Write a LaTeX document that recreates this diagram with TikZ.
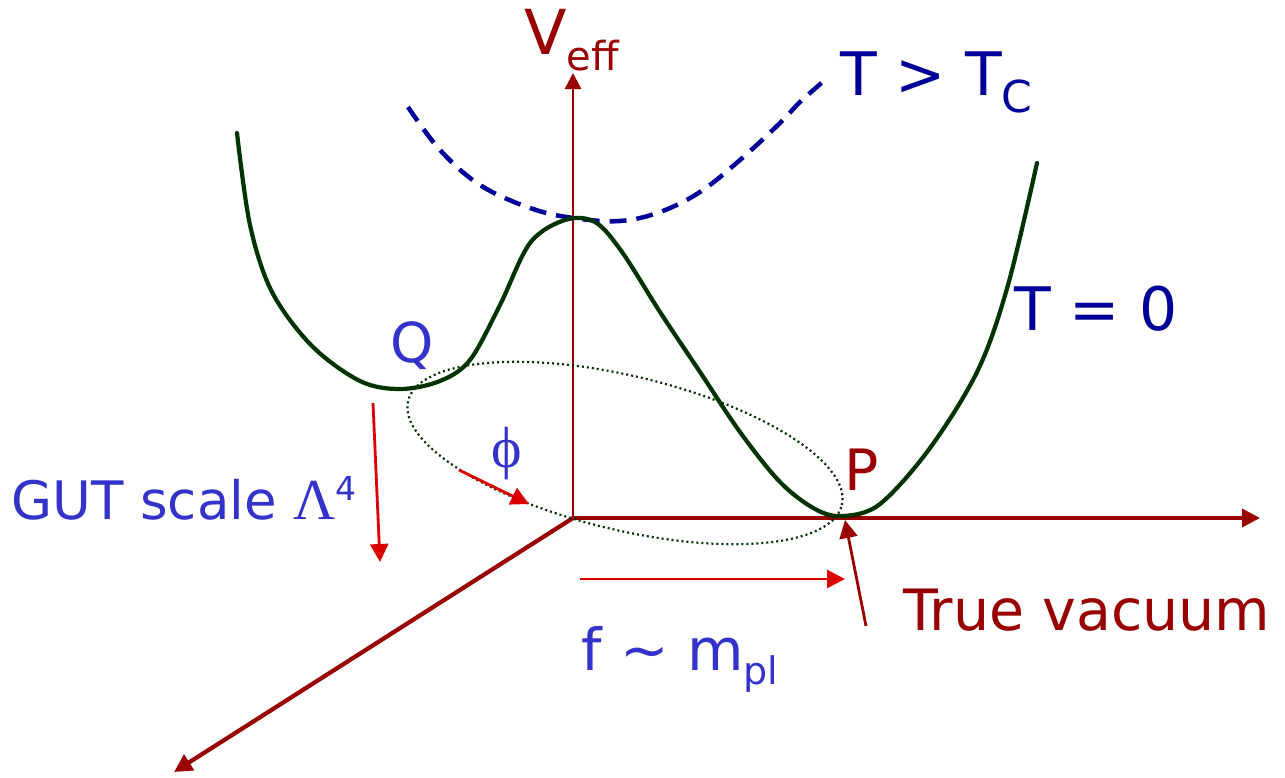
\documentclass[tikz,border=0pt]{standalone}
\usepackage{fontspec}
\setmainfont{DejaVu Sans}
\newfontfamily\serifgr{Liberation Serif}
\usetikzlibrary{arrows.meta}
\definecolor{axisred}{HTML}{990000}
\definecolor{brightred}{HTML}{DD0000}
\definecolor{lblue}{HTML}{3333CC}
\definecolor{dblue}{HTML}{000099}
\definecolor{dgreen}{HTML}{003300}
\newcommand\fs[1]{\fontsize{#1pt}{#1pt}\selectfont}
\begin{document}
\begin{tikzpicture}[x=1pt,y=-1pt,
  lbl/.style={inner sep=0pt, anchor=base west},
  axisline/.style={draw=axisred, line width=3.6pt, -{Triangle[length=18pt,width=18pt]}},
  smallarrow/.style={draw=brightred, line width=2.8pt, -{Triangle[length=18pt,width=18pt]}},
  vacarrow/.style={draw=axisred, line width=2.8pt, -{Triangle[length=18pt,width=18pt]}},
  potential/.style={draw=dgreen, line width=4.2pt, line cap=round},
  hotpot/.style={draw=dblue, line width=4.5pt, dash pattern=on 17pt off 10pt},
  orbit/.style={draw=dgreen, line width=2.2pt, dash pattern=on 2pt off 3pt}
]
\useasboundingbox (0,0) rectangle (1285,777);
\fill[white] (0,0) rectangle (1285,777);

% axes
\coordinate (O) at (573,518);
\coordinate (ytip) at (573,73);
\coordinate (xtip) at (1260,518);
\coordinate (ztip) at (174,772);
\draw[axisline, line width=2.6pt, -{Triangle[length=16pt,width=16pt]}] (O) -- (ytip);
\draw[axisline] (O) -- (xtip);
\draw[axisline, line width=4.2pt] (O) -- (ztip);

% orbit ellipse
\draw[orbit, rotate around={-13.5:(625,453)}] (625,453) ellipse [x radius=223pt, y radius=77pt];

% T > Tc curve
\draw[hotpot] plot[smooth, tension=0.6] coordinates {
  (408,107) (440,150) (480,185) (530,208) (573,218) (620,221) (660,212)
  (700,192) (740,160) (780,123) (800,102) (825,80)};

% T = 0 curve
\draw[potential] plot[smooth, tension=0.55] coordinates {
  (237,133) (250,225) (272,292) (312,346) (360,381) (400,389) (440,381)
  (470,360) (500,305) (530,243) (565,220) (595,222) (622,252) (660,312)
  (700,372) (740,432) (780,482) (815,509) (843,516) (880,504) (930,448)
  (978,370) (1008,285) (1037,163)};

% labels
\node[lbl, text=axisred, font=\fs{62}] (veff) at (524,54) {V\raisebox{-16pt}{\fs{40}eff}};
\node[lbl, text=dblue, font=\fs{60}] (thot) at (840,95) {T > T\raisebox{-17pt}{\fs{44}C}};
\node[lbl, text=dblue, font=\fs{60}] (tzero) at (1014,330) {T = 0};
\node[lbl, text=lblue, font=\fs{55}] (q) at (390,362) {Q};
\node[lbl, text=axisred, font=\fs{57}] (p) at (844,490) {P};
\node[lbl, text=lblue, font=\fs{58}\serifgr] (phi) at (491,467) {ϕ};
\node[lbl, text=lblue, font=\fs{53}] (gut) at (11,519) {GUT scale {\serifgr\fs{58}Λ}\raisebox{19pt}{\fs{33}4}};
\node[lbl, text=axisred, font=\fs{57}] (vac) at (903,630) {True vacuum};
\node[lbl, text=lblue, font=\fs{58}] (fm) at (581,670) {f \char"223C{} m\raisebox{-14pt}{\fs{38}pl}};

% small arrows
\coordinate (g1) at (373,403); \coordinate (g2) at (380,562);
\draw[smallarrow] (g1) -- (g2);
\coordinate (p1) at (459,470); \coordinate (p2) at (529,504);
\draw[smallarrow] (p1) -- (p2);
\coordinate (f1) at (580,579); \coordinate (f2) at (845,579);
\draw[smallarrow] (f1) -- (f2);
\coordinate (v1) at (866,626); \coordinate (v2) at (845,520);
\draw[vacarrow] (v1) -- (v2);
\end{tikzpicture}
\end{document}
